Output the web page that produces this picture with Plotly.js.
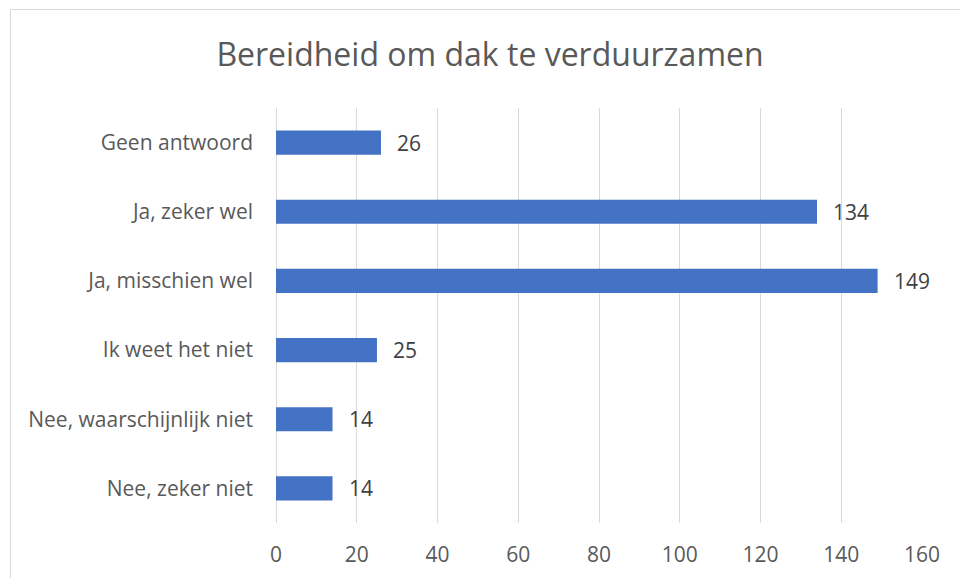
<!DOCTYPE html>
<html>
<head>
<meta charset="utf-8">
<script src="https://cdn.plot.ly/plotly-3.0.1.min.js"></script>
<style>
  html, body { margin: 0; padding: 0; background: #ffffff; }
  #chart { width: 960px; height: 578px; }
</style>
</head>
<body>
<div id="chart"></div>
<script>
// Data (bottom to top, as drawn)
const categories = [
  "Nee, zeker niet",
  "Nee, waarschijnlijk niet",
  "Ik weet het niet",
  "Ja, misschien wel",
  "Ja, zeker wel",
  "Geen antwoord"
];
const values = [14, 14, 25, 149, 134, 26];
const xTicks = [0, 20, 40, 60, 80, 100, 120, 140, 160];
const titleText = "Bereidheid om dak te verduurzamen";

const FONT = "'Open Sans', 'Noto Sans', sans-serif";

const trace = {
  type: "bar",
  orientation: "h",
  x: values,
  y: categories,
  marker: { color: "#4472C4" },
  hoverinfo: "none",
  cliponaxis: false
};

const annotations = categories.map((c, i) => ({
  x: values[i],
  y: c,
  xref: "x",
  yref: "y",
  text: String(values[i]),
  showarrow: false,
  xanchor: "left",
  yanchor: "middle",
  xshift: 14,
  font: { family: FONT, size: 21, color: "#404040" }
}));

const layout = {
  width: 960,
  height: 578,
  margin: { l: 276, r: 38, t: 108, b: 55, pad: 0 },
  paper_bgcolor: "#ffffff",
  plot_bgcolor: "rgba(0,0,0,0)",
  bargap: 0.65,
  showlegend: false,
  title: {
    text: titleText,
    font: { family: FONT, size: 32, color: "#595959" },
    x: 490 / 960,
    xref: "container",
    xanchor: "center",
    y: 1 - 55 / 578,
    yref: "container",
    yanchor: "middle"
  },
  xaxis: {
    range: [0, 160],
    tickvals: xTicks,
    ticktext: xTicks.map(String),
    showgrid: true,
    gridcolor: "#D9D9D9",
    gridwidth: 1,
    zeroline: true,
    zerolinecolor: "#D9D9D9",
    zerolinewidth: 1,
    showline: false,
    ticks: "",
    ticklabelstandoff: 17,
    tickfont: { family: FONT, size: 21, color: "#595959" },
    fixedrange: true
  },
  yaxis: {
    type: "category",
    categoryorder: "array",
    categoryarray: categories,
    showgrid: false,
    zeroline: false,
    showline: false,
    ticks: "",
    ticklabelstandoff: 22,
    tickfont: { family: FONT, size: 21, color: "#595959" },
    fixedrange: true
  },
  annotations: annotations,
  shapes: [{
    type: "rect",
    xref: "paper",
    yref: "paper",
    x0: (10.5 - 276) / 646,
    x1: 2,
    y0: -1,
    y1: 1 + (108 - 9.5) / 415,
    line: { color: "#D9D9D9", width: 1 },
    fillcolor: "rgba(0,0,0,0)",
    layer: "below"
  }]
};

Plotly.newPlot("chart", [trace], layout, { displayModeBar: false, staticPlot: true });
</script>
</body>
</html>
